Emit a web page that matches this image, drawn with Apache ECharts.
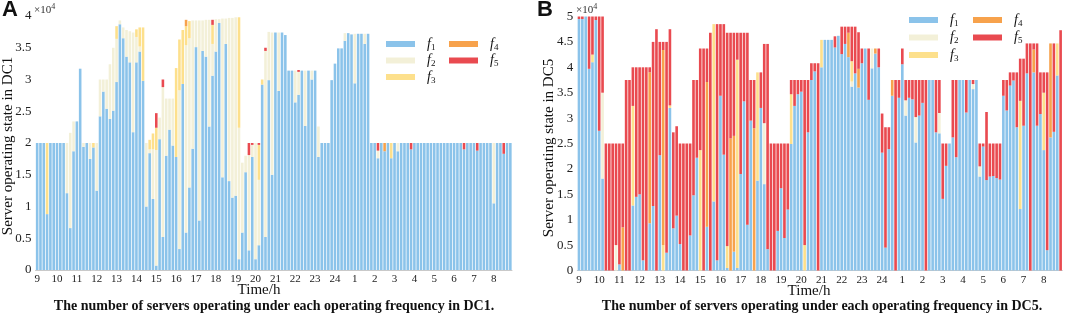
<!DOCTYPE html>
<html>
<head>
<meta charset="utf-8">
<script src="https://cdn.jsdelivr.net/npm/echarts@6/dist/echarts.min.js"></script>
<style>
html, body { margin: 0; padding: 0; background: #fff; }
#main { width: 1065px; height: 317px; }
</style>
</head>
<body>
<div id="main"></div>
<script>
// time axis: 24 hours, 10 minute slots
var hourLabels = ['9','10','11','12','13','14','15','16','17','18','19','20','21','22','23','24','1','2','3','4','5','6','7','8'];
var slotMinutes = ['00','10','20','30','40','50'];
var seriesNames = ['f1','f2','f3','f4','f5'];
var seriesColors = ['#8bc3ea','#f3f0d8','#fde08c','#f7a24c','#e94a50'];

// DC1 (values in 10^4 servers), one row per hour
var aF1 = [
  2,2,2,0.88,2,2,
  2,2,2,1.21,0.66,1.87,
  2.34,3.17,1.94,2,1.75,1.93,
  1.25,2.42,2.81,2.54,2.38,2.51,
  2.96,3.87,3.65,3.36,3.27,2.17,
  3.27,3.44,2.98,1.0,1.84,1.12,
  0.07,2.06,0.52,1.8,2.21,1.96,
  1.78,0.33,2.93,0.59,1.3,1.91,
  3.51,0.78,3.45,3.36,2.26,3.06,
  3.44,3.89,1.46,3.56,1.4,1.14,
  1.17,0.17,0.59,1.54,0.31,1.78,
  0.17,0.39,2.92,0.52,2.99,1.5,
  3.74,2.82,3.74,3.7,3.14,3.14,
  2.64,2.76,3.14,2.27,3.14,3.0,
  3.14,1.78,2,2,2,2.99,
  3.25,3.49,3.49,3.61,3.73,3.71,
  2.94,3.72,3.72,3.56,3.72,2,
  2,1.76,2,1.87,2,1.76,
  2,1.87,2,2,2,1.9,
  2,2,2,2,2,2,
  2,2,2,2,2,2,
  2,2,2,1.9,2,2,
  2,1.88,2,2,2,2,
  1.05,2,2,1.83,2,2
];
var aF2 = [
  0,0,0,0,0,0,
  0,0,0,0.79,1.5,0.47,
  0,0,0.06,0,0.25,0,
  0.75,0.58,0.19,0.46,0.86,0.99,
  0.68,0.06,0.17,0.42,0.49,1.57,
  0.4,0.08,0,1.0,0.06,0.78,
  1.82,0.34,2.36,0.9,0.49,0.74,
  0,2.5,0,2.95,2.35,2.02,
  0.42,3.15,0.48,0.58,1.68,0.5,
  0.51,0.06,2.5,0.4,2.57,2.83,
  2.81,2.07,1.1,0.26,1.5,0.19,
  1.83,1.03,0,2.93,0.76,2.24,
  0,0.92,0,0,0,0,
  0.5,0.36,0,0.87,0,0.14,
  0,0.48,0,0,0,0,
  0,0,0,0.12,0,0,
  0.78,0,0,0.16,0,0,
  0,0.12,0,0,0,0,
  0,0.13,0,0,0,0,
  0,0,0,0,0,0,
  0,0,0,0,0,0,
  0,0,0,0,0,0,
  0,0,0,0,0,0,
  0.95,0,0,0,0,0
];
var aF3 = [
  0,0,0,1.12,0,0,
  0,0,0,0,0,0,
  0,0,0,0,0,0.07,
  0,0,0,0,0,0,
  0.2,0,0,0,0,0,
  0.12,0.3,0.84,0,0.15,0.25,
  0.35,0,0,0,0,0,
  1.4,0.8,0.85,0.3,0.27,0,
  0,0,0,0,0,0.3,
  0,0,0,0,0,0,
  0,1.74,0,0,0,0,
  0,0.55,0.08,0,0,0,
  0,0,0,0,0,0,
  0,0,0,0,0,0,
  0,0,0,0,0,0,
  0,0,0,0,0,0,
  0,0,0,0,0,0,
  0,0,0,0,0,0.24,
  0,0,0,0,0,0,
  0,0,0,0,0,0,
  0,0,0,0,0,0,
  0,0,0,0,0,0,
  0,0,0,0,0,0,
  0,0,0,0,0,0
];
var aF4 = [
  0,0,0,0,0,0,
  0,0,0,0,0,0,
  0,0,0,0,0,0,
  0,0,0,0,0,0,
  0,0,0,0,0,0,
  0,0,0,0,0,0,
  0,0,0,0,0,0,
  0,0,0,0.1,0,0,
  0,0,0,0,0,0,
  0,0,0,0,0,0,
  0,0,0,0,0,0,
  0,0,0,0,0,0,
  0,0,0,0,0,0,
  0,0,0,0,0,0,
  0,0,0,0,0,0,
  0,0,0,0,0,0,
  0,0,0,0,0,0,
  0,0,0,0.13,0,0,
  0,0,0,0,0,0,
  0,0,0,0,0,0,
  0,0,0,0,0,0,
  0,0,0,0,0,0,
  0,0,0,0,0,0,
  0,0,0,0,0,0
];
var aF5 = [
  0,0,0,0,0,0,
  0,0,0,0,0,0,
  0,0,0,0,0,0,
  0,0,0,0,0,0,
  0,0,0,0,0,0,
  0,0,0,0,0,0,
  0.23,0,0.12,0,0,0,
  0,0,0,0,0,0,
  0,0,0,0,0,0.08,
  0,0,0,0,0,0,
  0,0,0,0,0.19,0.03,
  0,0.03,0,0.05,0,0,
  0,0,0,0,0,0,
  0,0.03,0,0,0,0,
  0,0,0,0,0,0,
  0,0,0,0,0,0,
  0,0,0,0,0,0,
  0,0.12,0,0,0,0,
  0,0,0,0,0,0.1,
  0,0,0,0,0,0,
  0,0,0,0,0,0,
  0,0,0,0.1,0,0,
  0,0.12,0,0,0,0,
  0,0,0,0.17,0,0
];

// DC5 (values in 10^4 servers), one row per hour
var bF1 = [
  4.95,4.95,5.0,3.97,4.1,4.93,
  2.75,1.81,0,0,0,0,
  0.12,0,0,0,1.28,1.45,
  1.5,0.2,0,0.93,1.27,0,
  2.27,0,0.35,3.2,0.83,1.08,
  0.52,0,0,0.69,1.48,2.22,
  0,0,0.86,0,1.36,0.2,
  3.44,2.28,0.05,0,0.37,0.05,
  1.9,3.33,0.9,2.95,0,1.77,
  3.2,1.7,0.42,0,0,0.78,
  1.62,0.64,1.2,2.49,3.24,3.47,
  3.52,0,2.72,3.75,3.92,0,
  4.0,4.54,4.54,4.54,4.39,4.62,
  4.26,4.46,4.2,3.62,3.88,3.6,
  4.08,4.37,3.36,3.98,4.27,4.0,
  2.32,0.45,2.39,3.44,0,3.4,
  4.06,3.05,3.4,3.37,2.52,3.05,
  3.3,0,3.75,3.75,2.72,2.7,
  1.41,2.06,2.5,2.62,2.23,3.75,
  3.75,3.11,3.75,3.57,3.75,1.85,
  2.44,1.78,1.85,1.86,1.82,1.79,
  3.44,3.15,3.64,3.74,2.82,1.21,
  2.85,3.88,0,3.9,2.85,3.08,
  2.37,0.4,2.62,2.73,3.84,0
];
var bF2 = [
  0,0,0,0,0,0,
  0,1.69,0,0,0,0.5,
  0,0,0,0,0,0,
  0,0,0,0,0,0,
  0,0,0,0,0,0,
  0,0,0,0,0,0,
  0,0,0,0,0,0,
  0,0,0,0,0,0,
  0,0,0,0,0,0,
  0,1.2,0,0,0,0,
  0,0,0,0,0,0,
  0,0,0,0,0,0,
  0,0,0,0,0,0,
  0,0,0,0.1,0,0,
  0,0,0,0.39,0,0,
  0,0,0,0,0,0,
  0,0.3,0,0,0.5,0,
  0,0,0,0,0,0.4,
  0,0,0,0,0,0,
  0,0,0,0.1,0,0.2,
  0,0,0,0,0,0,
  0,0,0,0,0,0,
  0,0,0,0,0,0,
  0,0,0,0,0,0
];
var bF3 = [
  0,0,0,0,0.15,0,
  0,0,0,0,0,0,
  0,0,0,0,1.96,0,
  0,0,0,0,0,0,
  0,0.5,0,0.05,0,0,
  0,0,0,0,0,0,
  2.37,0,0,0,3.49,0,
  0,0,0.43,0,0,4.1,
  0,0,0,0,0,2.13,
  0,0,0,0,0,0,
  0,0,0,0.98,0,0,
  0,0.5,0,0,0,0,
  0.54,0,0,0,0,0,
  0,0,0,0.4,0,0,
  0,0,0,0,0,0,
  0,0,0,0,0,0,
  0,0,0,0,0,0,
  0,0,0,0,0,0,
  0,0,0,0,0,0,
  0,0,0,0,0,0,
  0,0,0,0,0,0,
  0,0,0,0,0,2.13,
  0,0,0,0,0,0,
  1.13,0,0,0,0.63,0
];
var bF4 = [
  0,0,0,0,0,0,
  0,0,0,0,0,0,
  0,0.85,0,0,0,0,
  0,0,0,2.97,0,0,
  0,3.84,0,0,0,0,
  0,0,0,0,0,0,
  0,0,2.85,0,0,0,
  0,0,0,2.6,2.28,0,
  0,0,0,0,2.8,0,
  0,0,0,0,0,0,
  0,0,0,0,0,0,
  0,0,0,0,0,0,
  0,0,0,0,0,0,
  0,0,0.48,0,0,0.37,
  0,0,0,0,0.1,0,
  0,0,0,0.31,0,0,
  0,0,0,0,0,0,
  0,0,0,0,0,0,
  0,0,0,0,0,0,
  0,0,0,0,0,0,
  0,0,0,0,0,0,
  0,0,0,0,0,0,
  0,0,0,0.45,0,0,
  0,0,1.85,0,0,0
];
var bF5 = [
  0.05,0.05,0,1.03,0.75,0.07,
  2.25,1.5,2.5,2.5,2.5,2.0,
  2.38,1.65,3.75,3.75,0.76,2.55,
  2.5,3.8,4.0,0.1,3.23,4.75,
  2.23,0.16,4.15,1.5,1.89,1.76,
  1.98,2.5,2.5,1.81,2.27,1.53,
  2.0,4.37,0.66,4.68,0,4.65,
  1.41,2.57,4.2,2.08,2.03,0.53,
  2.78,1.35,3.78,0.8,0.95,0,
  0.7,1.56,4.04,2.5,2.5,1.72,
  0.88,1.86,1.3,0.28,0.51,0.28,
  0.23,3.25,1.03,0.33,0.16,4.08,
  0,0,0,0,0.22,0,
  0.54,0.34,0.12,0.68,0.92,0.72,
  0.29,0,1.01,0,0,0.37,
  0.77,2.37,0.43,0,3.75,0.35,
  0.31,0.4,0.35,0.38,0.73,0.7,
  0.45,3.75,0,0,1.03,0.65,
  1.09,0.44,0,1.13,1.52,0,
  0,0.64,0,0.08,0,0.45,
  0.06,1.34,0.65,0.64,0.68,0.71,
  0.31,0.6,0.26,0.16,1.08,0.83,
  1.32,0.59,4.47,0.12,1.62,0.82,
  0.4,3.5,0,1.74,0,4.73
];

var timeSlots = [];
hourLabels.forEach(function (h) {
    slotMinutes.forEach(function (m) { timeSlots.push(h + ':' + m); });
});

var serif = 'Liberation Serif';
var panels = [
    { stack: 'DC1', data: [aF1, aF2, aF3, aF4, aF5], max: 4 },
    { stack: 'DC5', data: [bF1, bF2, bF3, bF4, bF5], max: 5 }
];

var chart = echarts.init(document.getElementById('main'));

var xAxes = [], yAxes = [], series = [];
panels.forEach(function (p, idx) {
    xAxes.push({
        type: 'category',
        gridIndex: idx,
        data: timeSlots,
        axisLine: { lineStyle: { color: '#c9c9c9', width: 1 } },
        axisTick: { interval: 5, alignWithLabel: true, length: 3, lineStyle: { color: '#c9c9c9' } },
        axisLabel: {
            interval: 5,
            margin: 4,
            fontFamily: serif,
            fontSize: 11,
            color: '#222',
            formatter: function (v) { return v.split(':')[0]; }
        }
    });
    yAxes.push({
        type: 'value',
        gridIndex: idx,
        min: 0,
        max: p.max,
        interval: 0.5,
        axisLine: { show: false },
        axisTick: { show: false },
        splitLine: { show: false },
        axisLabel: { margin: 4, fontFamily: serif, fontSize: 13, color: '#222' }
    });
    seriesNames.forEach(function (name, k) {
        series.push({
            name: name,
            type: 'bar',
            stack: p.stack,
            xAxisIndex: idx,
            yAxisIndex: idx,
            barCategoryGap: '22%',
            itemStyle: { color: seriesColors[k] },
            data: p.data[k]
        });
    });
});

function legendCfg(left, top, names, gap) {
    return {
        left: left,
        top: top,
        orient: 'vertical',
        padding: 0,
        itemGap: gap,
        itemWidth: 29,
        itemHeight: 6,
        icon: 'rect',
        selectedMode: false,
        data: names,
        formatter: function (n) { return '{i|f}{s|' + n.slice(1) + '}'; },
        textStyle: {
            rich: {
                i: { fontFamily: serif, fontStyle: 'italic', fontSize: 14, lineHeight: 11, color: '#111', padding: [0, 0, 0, 7] },
                s: { fontFamily: serif, fontSize: 9, lineHeight: 11, color: '#111', padding: [7, 0, 0, 0] }
            }
        }
    };
}

function sup(x, y) {
    return {
        type: 'text', left: x, top: y,
        style: {
            text: '{a|×10}{b|4}',
            rich: {
                a: { fontFamily: serif, fontSize: 11, fill: '#333' },
                b: { fontFamily: serif, fontSize: 8, fill: '#333', padding: [0, 0, 6, 0] }
            }
        }
    };
}

function plain(x, y, str, font, rot) {
    return {
        type: 'text', x: x, y: y, rotation: rot || 0,
        style: { text: str, font: font, fill: '#111', textAlign: 'center', textVerticalAlign: 'middle' }
    };
}

var option = {
    animation: false,
    backgroundColor: '#fff',
    grid: [
        { left: 35.5, top: 16, width: 476.5, height: 254 },
        { left: 577.3, top: 16.5, width: 485, height: 254 }
    ],
    xAxis: xAxes,
    yAxis: yAxes,
    legend: [
        legendCfg(386, 36, ['f1', 'f2', 'f3'], 0.5),
        legendCfg(449, 36, ['f4', 'f5'], 0.5),
        legendCfg(909, 12, ['f1', 'f2', 'f3'], 1.5),
        legendCfg(973, 12, ['f4', 'f5'], 1.5)
    ],
    series: series,
    graphic: [
        plain(10, 10, 'A', 'bold 22px "Liberation Sans"'),
        plain(545, 10, 'B', 'bold 22px "Liberation Sans"'),
        sup(34, 3),
        sup(576, 3),
        plain(8, 146, 'Server operating state in DC1', '15px "Liberation Serif"', Math.PI / 2),
        plain(549, 148, 'Server operating state in DC5', '15px "Liberation Serif"', Math.PI / 2),
        plain(259, 290, 'Time/h', '15px "Liberation Serif"'),
        plain(809, 291, 'Time/h', '15px "Liberation Serif"'),
        plain(274, 306, 'The number of servers operating under each operating frequency in DC1.', 'bold 14px "Liberation Serif"'),
        plain(822, 306, 'The number of servers operating under each operating frequency in DC5.', 'bold 14px "Liberation Serif"')
    ]
};

chart.setOption(option);
</script>
</body>
</html>
